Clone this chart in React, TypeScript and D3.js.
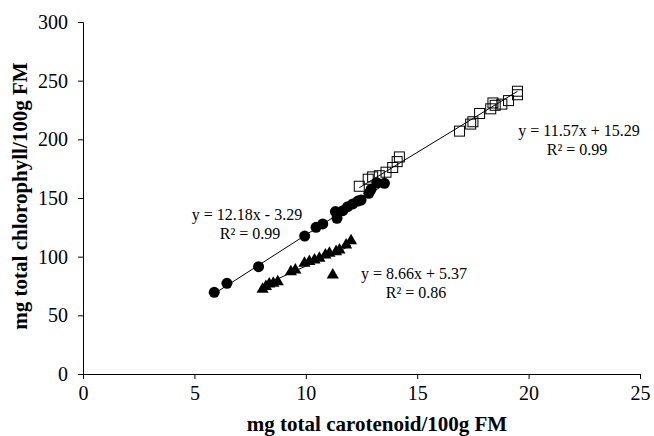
import React, { useRef, useEffect } from 'react'
import * as d3 from 'd3'

// circles (filled)
const CIRCLE_X = [5.89, 6.46, 7.88, 9.95, 10.46, 10.76, 11.33, 11.4, 11.66, 11.88, 12.11, 12.34, 12.48, 12.83, 12.93, 13.19, 13.53]
const CIRCLE_Y = [69.6, 77.3, 91.5, 117.6, 125, 127.9, 138.4, 132.7, 139.2, 142.6, 144.9, 147.4, 148.3, 154, 157.4, 163, 162.5]

// squares (open)
const SQUARE_X = [12.4, 12.8, 13.0, 13.3, 13.6, 13.9, 14.1, 14.2, 16.9, 17.4, 17.5, 17.8, 18.3, 18.4, 18.5, 18.8, 19.1, 19.5, 19.5]
const SQUARE_Y = [160, 166, 168, 169, 172, 176, 181, 185, 207, 213, 215, 222, 226, 231, 229, 230, 233, 238, 241]

// triangles (filled)
const TRI_X = [8.06, 8.21, 8.36, 8.54, 8.74, 9.33, 9.53, 9.94, 10.16, 10.39, 10.61, 10.88, 11.06, 11.36, 11.51, 11.81, 12.03, 11.21]
const TRI_Y = [72.2, 74.5, 76.7, 77.3, 78.7, 87.2, 88.7, 94.4, 95.8, 97.2, 98.6, 101.4, 102.9, 104.3, 105.7, 110, 113.6, 84.4]

const SLOPES = [12.18, 11.57, 8.66]
const INTERCEPTS = [-3.29, 15.29, 5.37]
const EQUATIONS = ['y = 12.18x - 3.29', 'y = 11.57x + 15.29', 'y = 8.66x + 5.37']
const R2 = ['R² = 0.99', 'R² = 0.99', 'R² = 0.86']

const X_TICKS = [0, 5, 10, 15, 20, 25]
const Y_TICKS = [0, 50, 100, 150, 200, 250, 300]

const W = 654
const H = 436
const FONT = '"Liberation Serif", "Times New Roman", serif'

export default function App() {
  const svgRef = useRef<SVGSVGElement>(null)

  useEffect(() => {
    if (!svgRef.current) return
    const svg = d3.select(svgRef.current)
    svg.selectAll('*').remove()

    const x = d3.scaleLinear().domain([0, 25]).range([83, 640])
    const y = d3.scaleLinear().domain([0, 300]).range([374, 22])

    // axes
    const xAxis = d3.axisBottom(x).tickValues(X_TICKS).tickSize(5).tickPadding(7)
    const gx = svg.append('g').attr('transform', `translate(0,${y(0)})`).call(xAxis)
    const yAxis = d3.axisLeft(y).tickValues(Y_TICKS).tickSize(5).tickPadding(10)
    const gy = svg.append('g').attr('transform', `translate(${x(0)},0)`).call(yAxis)
    for (const g of [gx, gy]) {
      g.select('.domain').attr('stroke', '#000').attr('stroke-width', 1)
      g.selectAll('line').attr('stroke', '#000')
      g.selectAll('text').attr('fill', '#000').style('font-size', '20px').style('font-family', FONT)
    }

    // trendlines over each series' range
    const series = [
      { xs: CIRCLE_X, ys: CIRCLE_Y },
      { xs: SQUARE_X, ys: SQUARE_Y },
      { xs: TRI_X, ys: TRI_Y },
    ]
    const line = d3.line<number>().x(d => x(d[0])).y(d => y(d[1]))
    series.forEach((s, i) => {
      const [lo, hi] = d3.extent(s.xs) as [number, number]
      const pts = [lo, hi].map(v => [v, SLOPES[i] * v + INTERCEPTS[i]])
      svg.append('path').attr('d', line(pts as any)).attr('fill', 'none').attr('stroke', '#000').attr('stroke-width', 1)
    })

    // markers
    svg.append('g').selectAll('circle')
      .data(CIRCLE_X)
      .enter()
      .append('circle')
      .attr('cx', d => x(d))
      .attr('cy', (d, i) => y(CIRCLE_Y[i]))
      .attr('r', 5.5)
      .attr('fill', '#000')

    svg.append('g').selectAll('rect')
      .data(SQUARE_X)
      .enter()
      .append('rect')
      .attr('x', d => x(d) - 5)
      .attr('y', (d, i) => y(SQUARE_Y[i]) - 5)
      .attr('width', 10)
      .attr('height', 10)
      .attr('fill', 'none')
      .attr('stroke', '#000')
      .attr('stroke-width', 1)

    const tri = d3.symbol().type(d3.symbolTriangle).size(64)
    svg.append('g').selectAll('path')
      .data(TRI_X)
      .enter()
      .append('path')
      .attr('d', tri)
      .attr('transform', (d, i) => `translate(${x(d)},${y(TRI_Y[i])})`)
      .attr('fill', '#000')

    // equation labels
    const labels = [
      { ex: 247, ey: 214, rx: 250, ry: 233 },
      { ex: 579, ey: 130, rx: 577, ry: 149 },
      { ex: 414, ey: 273, rx: 416, ry: 292 },
    ]
    labels.forEach((p, i) => {
      svg.append('text').attr('x', p.ex).attr('y', p.ey).attr('dy', '0.35em').attr('text-anchor', 'middle')
        .style('font-family', FONT).style('font-size', '16px').text(EQUATIONS[i])
      svg.append('text').attr('x', p.rx).attr('y', p.ry).attr('dy', '0.35em').attr('text-anchor', 'middle')
        .style('font-family', FONT).style('font-size', '16px').text(R2[i])
    })

    // axis titles
    svg.append('text').attr('x', 377).attr('y', 424).attr('dy', '0.35em').attr('text-anchor', 'middle')
      .style('font-family', FONT).style('font-size', '21px').style('font-weight', 'bold')
      .text('mg total carotenoid/100g FM')
    svg.append('text').attr('transform', 'translate(20,196) rotate(-90)').attr('dy', '0.35em').attr('text-anchor', 'middle')
      .style('font-family', FONT).style('font-size', '21px').style('font-weight', 'bold')
      .text('mg total chlorophyll/100g FM')
  }, [])

  return (
    <div style={{ position: 'fixed', left: 0, top: 0, background: '#fff' }}>
      <svg ref={svgRef} width={W} height={H} style={{ display: 'block' }} />
    </div>
  )
}
